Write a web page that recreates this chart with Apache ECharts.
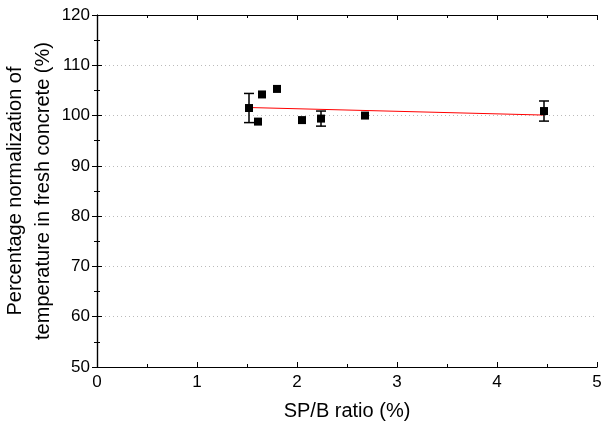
<!DOCTYPE html>
<html>
<head>
<meta charset="utf-8">
<script src="https://cdn.jsdelivr.net/npm/echarts@6/dist/echarts.min.js"></script>
<style>
html, body { margin: 0; padding: 0; background: #fff; }
#chart { width: 603px; height: 426px; }
</style>
</head>
<body>
<div id="chart"></div>
<script>
// measured points: SP/B ratio vs normalized temperature
var spbRatio = [1.52, 1.61, 1.65, 1.80, 2.05, 2.24, 2.68, 4.47];
var tempNorm = [101.5, 98.8, 104.2, 105.3, 99.1, 99.4, 100.0, 100.9];
// error bar half widths (0 = no bar)
var tempErr = [2.9, 0, 0, 0, 0, 1.5, 0, 2.0];
// linear fit end points
var fitX = [1.52, 4.47];
var fitY = [101.6, 100.1];

var points = spbRatio.map(function (x, i) { return [x, tempNorm[i]]; });
var errData = [];
for (var i = 0; i < spbRatio.length; i++) {
    if (tempErr[i] > 0) {
        errData.push([spbRatio[i], tempNorm[i] - tempErr[i], tempNorm[i] + tempErr[i]]);
    }
}
var fitData = fitX.map(function (x, i) { return [x, fitY[i]]; });

var font = 'Liberation Sans, Arial, sans-serif';
var myChart = echarts.init(document.getElementById('chart'));
var option = {
    backgroundColor: '#fff',
    animation: false,
    grid: { left: 97, right: 6, top: 15, bottom: 59, containLabel: false, outerBoundsMode: 'none' },
    xAxis: [{
        type: 'value',
        min: 0, max: 5, interval: 1,
        name: 'SP/B ratio (%)',
        nameLocation: 'middle',
        nameGap: 34,
        nameMoveOverlap: false,
        nameTextStyle: { fontFamily: font, fontSize: 20, color: '#000' },
        axisLine: { lineStyle: { color: '#000', width: 1.2 } },
        axisTick: { inside: true, length: 5, lineStyle: { color: '#000' } },
        minorTick: { show: true, splitNumber: 2, length: 3, lineStyle: { color: '#000' } },
        axisLabel: { fontFamily: font, fontSize: 17, color: '#000', margin: 7 },
        splitLine: { show: false }
    }, {
        type: 'value', position: 'top',
        min: 0, max: 5, interval: 1,
        axisLine: { lineStyle: { color: '#000', width: 1.2 } },
        axisTick: { inside: true, length: 5, lineStyle: { color: '#000' } },
        minorTick: { show: true, splitNumber: 2, length: 3, lineStyle: { color: '#000' } },
        axisLabel: { show: false },
        splitLine: { show: false }
    }],
    yAxis: [{
        type: 'value',
        min: 50, max: 120, interval: 10,
        name: 'Percentage normalization of\ntemperature in fresh concrete (%)',
        nameLocation: 'middle',
        nameGap: 40,
        nameMoveOverlap: false,
        nameTextStyle: { fontFamily: font, fontSize: 20, color: '#000', lineHeight: 28 },
        axisLine: { show: true, lineStyle: { color: '#000', width: 1.2 } },
        axisTick: { inside: true, length: 5, lineStyle: { color: '#000' } },
        minorTick: { show: true, splitNumber: 2, length: 3, lineStyle: { color: '#000' } },
        axisLabel: { fontFamily: font, fontSize: 17, color: '#000', margin: 7 },
        splitLine: { show: true, lineStyle: { color: '#bbb', type: [1, 3], width: 1 } }
    }, {
        type: 'value', position: 'right',
        min: 50, max: 120, interval: 10,
        axisLine: { show: true, lineStyle: { color: '#000', width: 1.2 } },
        axisTick: { inside: true, length: 5, lineStyle: { color: '#000' } },
        minorTick: { show: true, splitNumber: 2, length: 3, lineStyle: { color: '#000' } },
        axisLabel: { show: false },
        splitLine: { show: false }
    }],
    series: [
        {
            type: 'line',
            data: fitData,
            symbol: 'none',
            lineStyle: { color: '#ff0000', width: 1 },
            z: 2
        },
        {
            type: 'custom',
            data: errData,
            renderItem: function (params, api) {
                var lo = api.coord([api.value(0), api.value(1)]);
                var hi = api.coord([api.value(0), api.value(2)]);
                var w = 5;
                var st = { stroke: '#000', lineWidth: 1.5 };
                return {
                    type: 'group',
                    children: [
                        { type: 'line', shape: { x1: lo[0], y1: lo[1], x2: hi[0], y2: hi[1] }, style: st },
                        { type: 'line', shape: { x1: lo[0] - w, y1: lo[1], x2: lo[0] + w, y2: lo[1] }, style: st },
                        { type: 'line', shape: { x1: hi[0] - w, y1: hi[1], x2: hi[0] + w, y2: hi[1] }, style: st }
                    ]
                };
            },
            z: 3
        },
        {
            type: 'scatter',
            data: points,
            symbol: 'rect',
            symbolSize: 8,
            itemStyle: { color: '#000', opacity: 1 },
            z: 4
        }
    ]
};
myChart.setOption(option);
</script>
</body>
</html>
